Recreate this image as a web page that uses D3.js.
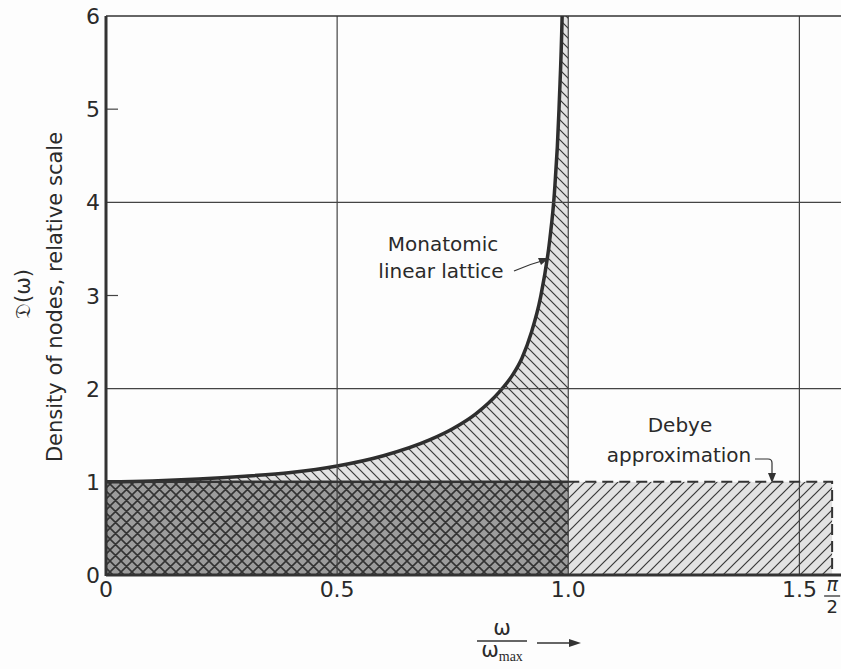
<!DOCTYPE html>
<html>
<head>
<meta charset="utf-8">
<script src="https://cdn.jsdelivr.net/npm/d3@7"></script>
<style>
  body { margin: 0; background: #fdfdfd; }
  text { font-family: "DejaVu Sans", sans-serif; fill: #2a2a2a; }
</style>
</head>
<body>
<svg id="chart" width="841" height="669"></svg>
<script>
// readings of the monatomic lattice curve (omega/omega_max, D)
var latticeW = [0, 0.1, 0.2, 0.3, 0.4, 0.5, 0.6, 0.7, 0.75, 0.8, 0.85, 0.88, 0.9, 0.92, 0.94, 0.96, 0.97, 0.98, 0.99, 0.995];
var latticeD = [1.0, 1.01, 1.03, 1.06, 1.1, 1.17, 1.28, 1.45, 1.57, 1.73, 1.96, 2.15, 2.33, 2.6, 2.98, 3.6, 4.1, 5.0, 6.9, 9.5];
// Debye approximation: constant level up to pi/2
var debyeLevel = 1;
var debyeEnd = Math.PI / 2;
var xTicks = [0, 0.5, 1.0, 1.5];
var xTickLabels = ["0", "0.5", "1.0", "1.5"];
var yTicks = [0, 1, 2, 3, 4, 5, 6];
var yGrid = [2, 4];

var svg = d3.select("#chart");
var x = d3.scaleLinear().domain([0, 1.59]).range([106, 841]);
var y = d3.scaleLinear().domain([0, 6]).range([575, 16]);

var lattice = latticeW.map(function(w, i){ return {w: w, d: latticeD[i]}; });

var defs = svg.append("defs");
defs.append("clipPath").attr("id", "plot")
  .append("rect").attr("x", x(0)).attr("y", y(6)).attr("width", 841 - x(0)).attr("height", y(0) - y(6));

// hatch patterns
var p1 = defs.append("pattern").attr("id", "fwd").attr("patternUnits", "userSpaceOnUse")
  .attr("width", 11).attr("height", 11);
p1.append("rect").attr("width", 11).attr("height", 11).attr("fill", "#e2e2e2");
p1.append("path").attr("d", "M0,11L11,0M-3,3L3,-3M8,14L14,8").attr("stroke", "#383838").attr("stroke-width", 1.2);

var p2 = defs.append("pattern").attr("id", "back").attr("patternUnits", "userSpaceOnUse")
  .attr("width", 10).attr("height", 10);
p2.append("rect").attr("width", 10).attr("height", 10).attr("fill", "#e2e2e2");
p2.append("path").attr("d", "M0,0L10,10M-3,7L3,13M7,-3L13,3").attr("stroke", "#383838").attr("stroke-width", 1.2);

var p3 = defs.append("pattern").attr("id", "cross").attr("patternUnits", "userSpaceOnUse")
  .attr("width", 11).attr("height", 11);
p3.append("rect").attr("width", 11).attr("height", 11).attr("fill", "#9c9c9c");
p3.append("path").attr("d", "M0,0L11,11M-3,8L3,14M8,-3L14,3M0,11L11,0M-3,3L3,-3M8,14L14,8")
  .attr("stroke", "#333").attr("stroke-width", 1.6);

var g = svg.append("g").attr("clip-path", "url(#plot)");

// Debye region beyond omega_max
g.append("rect")
  .attr("x", x(1)).attr("y", y(debyeLevel))
  .attr("width", x(debyeEnd) - x(1)).attr("height", y(0) - y(debyeLevel))
  .attr("fill", "url(#fwd)");

// overlap region
g.append("rect")
  .attr("x", x(0)).attr("y", y(debyeLevel))
  .attr("width", x(1) - x(0)).attr("height", y(0) - y(debyeLevel))
  .attr("fill", "url(#cross)");

// lattice above the Debye level
var area = d3.area()
  .x(function(d){ return x(d.w); })
  .y0(y(debyeLevel))
  .y1(function(d){ return y(d.d); })
  .curve(d3.curveMonotoneX);
g.append("path").datum(lattice.concat([{w: 1, d: 10}]))
  .attr("d", area).attr("fill", "url(#back)");

// grid
yGrid.forEach(function(v){
  svg.append("line").attr("x1", x(0)).attr("x2", 841).attr("y1", y(v)).attr("y2", y(v))
    .attr("stroke", "#444").attr("stroke-width", 1.2);
});
[0.5, 1.0, 1.5].forEach(function(v){
  svg.append("line").attr("x1", x(v)).attr("x2", x(v)).attr("y1", y(0)).attr("y2", y(6))
    .attr("stroke", "#444").attr("stroke-width", 1.2);
});
[3, 5].forEach(function(v){
  svg.append("line").attr("x1", x(0)).attr("x2", x(0) + 12).attr("y1", y(v)).attr("y2", y(v))
    .attr("stroke", "#444").attr("stroke-width", 1.2);
});
svg.append("line").attr("x1", x(0)).attr("x2", 841).attr("y1", y(6)).attr("y2", y(6))
  .attr("stroke", "#333").attr("stroke-width", 1.5);

// lattice curve
var line = d3.line()
  .x(function(d){ return x(d.w); })
  .y(function(d){ return y(d.d); })
  .curve(d3.curveMonotoneX);
g.append("path").datum(lattice).attr("d", line)
  .attr("fill", "none").attr("stroke", "#2e2e2e").attr("stroke-width", 3.5);

// solid Debye top under omega_max
svg.append("line").attr("x1", x(0)).attr("x2", x(1)).attr("y1", y(debyeLevel)).attr("y2", y(debyeLevel))
  .attr("stroke", "#333").attr("stroke-width", 2.5);
// dashed Debye outline
svg.append("path")
  .attr("d", "M" + x(1) + "," + y(debyeLevel) + "H" + x(debyeEnd) + "V" + y(0))
  .attr("fill", "none").attr("stroke", "#333").attr("stroke-width", 2)
  .attr("stroke-dasharray", "11,6");

// axes
svg.append("line").attr("x1", x(0)).attr("x2", 841).attr("y1", y(0)).attr("y2", y(0))
  .attr("stroke", "#333").attr("stroke-width", 3);
svg.append("line").attr("x1", x(0)).attr("x2", x(0)).attr("y1", y(0) + 1).attr("y2", y(6))
  .attr("stroke", "#333").attr("stroke-width", 3);

// tick labels
yTicks.forEach(function(v){
  svg.append("text").attr("x", x(0) - 6).attr("y", y(v) + 8)
    .attr("text-anchor", "end").attr("font-size", 22).text(v);
});
xTicks.forEach(function(v, i){
  svg.append("text").attr("x", x(v)).attr("y", y(0) + 22)
    .attr("text-anchor", "middle").attr("font-size", 22).text(xTickLabels[i]);
});
// pi/2 fraction
svg.append("text").attr("x", x(debyeEnd)).attr("y", y(0) + 16)
  .attr("text-anchor", "middle").attr("font-size", 19).attr("font-style", "italic").text("π");
svg.append("line").attr("x1", x(debyeEnd) - 8).attr("x2", x(debyeEnd) + 8)
  .attr("y1", y(0) + 21).attr("y2", y(0) + 21).attr("stroke", "#333").attr("stroke-width", 1.3);
svg.append("text").attr("x", x(debyeEnd)).attr("y", y(0) + 38)
  .attr("text-anchor", "middle").attr("font-size", 18).text("2");

// axis titles
svg.append("text").attr("transform", "translate(62,297) rotate(-90)")
  .attr("text-anchor", "middle").attr("font-size", 21).text("Density of nodes, relative scale");
svg.append("text").attr("transform", "translate(30,294) rotate(-90)")
  .attr("text-anchor", "middle").attr("font-size", 21).text("𝔇(ω)");

var xt = svg.append("g").attr("transform", "translate(502,641)");
xt.append("text").attr("x", 0).attr("y", -6).attr("text-anchor", "middle").attr("font-size", 21).text("ω");
xt.append("line").attr("x1", -25).attr("x2", 25).attr("y1", 0).attr("y2", 0).attr("stroke", "#333").attr("stroke-width", 1.3);
var tb = xt.append("text").attr("x", 0).attr("y", 16).attr("text-anchor", "middle").attr("font-size", 21);
tb.append("tspan").text("ω");
tb.append("tspan").attr("font-size", 14).attr("font-family", "Liberation Serif, serif").attr("dy", 4).text("max");
xt.append("line").attr("x1", 35).attr("x2", 72).attr("y1", 2).attr("y2", 2).attr("stroke", "#333").attr("stroke-width", 1.3);
xt.append("path").attr("d", "M79,2L67,-2L67,6Z").attr("fill", "#333");

// annotations
svg.append("text").attr("x", 443).attr("y", 251).attr("text-anchor", "middle").attr("font-size", 20).text("Monatomic");
svg.append("text").attr("x", 441).attr("y", 278).attr("text-anchor", "middle").attr("font-size", 20).text("linear lattice");
svg.append("path").attr("d", "M514,271Q530,264 545,260").attr("fill", "none").attr("stroke", "#333").attr("stroke-width", 1.2);
svg.append("path").attr("d", "M549,258L538,258L541,265Z").attr("fill", "#333");

svg.append("text").attr("x", 680).attr("y", 432).attr("text-anchor", "middle").attr("font-size", 20).text("Debye");
svg.append("text").attr("x", 679).attr("y", 462).attr("text-anchor", "middle").attr("font-size", 20).text("approximation");
svg.append("path").attr("d", "M755,459H768Q772,459 772,463V476").attr("fill", "none").attr("stroke", "#333").attr("stroke-width", 1.2);
svg.append("path").attr("d", "M772,483L768,473L776,473Z").attr("fill", "#333");
</script>
</body>
</html>
